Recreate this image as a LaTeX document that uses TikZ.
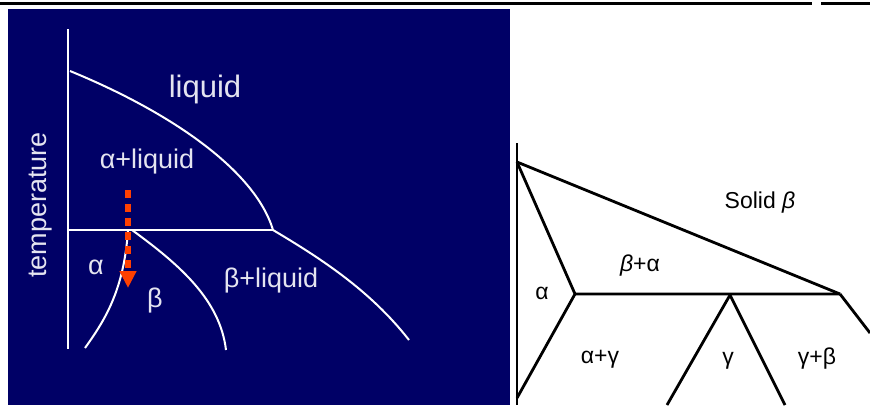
\documentclass[tikz,border=0pt]{standalone}
\usepackage{fontspec}
\setmainfont{Liberation Sans}
\usetikzlibrary{arrows.meta}
\definecolor{navyback}{RGB}{0,0,102}
\definecolor{labelgrey}{RGB}{228,228,240}
\definecolor{coolred}{RGB}{255,64,0}

\begin{document}
\begin{tikzpicture}[x=1pt,y=-1pt,
    phase/.style={draw=white,line width=2pt},
    boundary/.style={draw=black,line width=2.8pt,line join=round},
    bigtext/.style={text=labelgrey,inner sep=0pt,font=\fontsize{27}{27}\selectfont},
    smalltext/.style={inner sep=0pt,font=\fontsize{23}{23}\selectfont}
]

\useasboundingbox (0,0) rectangle (870,405);

% Trait du haut
\draw[line width=3pt] (0,3) -- (812,3);
\draw[line width=3pt] (821,3) -- (870,3);

% Fond bleu
\fill[navyback] (8,9) rectangle (510,405);

% Axe des temperatures
\coordinate (axtop) at (68,29);
\coordinate (axbot) at (68,349);
\draw[phase] (axtop) -- (axbot);

% Points du diagramme
\coordinate (melt) at (70,71);
\coordinate (eut) at (273,230);
\coordinate (eutleft) at (68,230);
\coordinate (solvA) at (128,230);
\coordinate (solvB) at (132,230);

% Liquidus
\draw[phase] (melt) .. controls (170,112) and (255,170) .. (eut);
\draw[phase] (eut) .. controls (320,258) and (370,290) .. (409,340);

% Palier
\draw[phase] (eutleft) -- (eut);

% Solvus
\draw[phase] (solvA) .. controls (124,290) and (105,320) .. (85,348);
\draw[phase] (solvB) .. controls (180,265) and (220,300) .. (226,350);

% Refroidissement
\coordinate (cool0) at (128,190);
\coordinate (cool1) at (128,288);
\draw[coolred,line width=6.5pt,dash pattern=on 8pt off 6pt,
    -{Triangle[width=16pt,length=17pt]}] (cool0) -- (cool1);

% Etiquettes
\node[bigtext,font=\fontsize{31}{31}\selectfont] (liq) at (205,89) {liquid};
\node[bigtext] (aliq) at (147,162) {α+liquid};
\node[bigtext] (bliq) at (271,281) {β+liquid};
\node[bigtext] (alpha) at (96,267) {α};
\node[bigtext] (beta) at (155,301) {β};
\node[bigtext,rotate=90] (temp) at (41,205) {temperature};

% Deuxieme diagramme
\coordinate (top) at (517,143);
\coordinate (bot) at (517,405);
\coordinate (apex) at (517,162);
\coordinate (tri) at (840,294);
\coordinate (knee) at (575,294);
\coordinate (gam) at (730,295);
\draw[boundary] (top) -- (bot);
\draw[boundary] (apex) -- (tri);
\draw[boundary] (apex) -- (knee) -- (tri);
\draw[boundary] (tri) -- (870,333);
\draw[boundary] (knee) -- (517,398);
\draw[boundary] (667,405) -- (gam) -- (785,405);

\node[smalltext] (solb) at (760,203) {Solid \textit{β}};
\node[smalltext] (ba) at (640,266) {\textit{β}+α};
\node[smalltext] (a) at (542,293) {α};
\node[smalltext] (ag) at (600,359) {α+γ};
\node[smalltext] (g) at (728,361) {γ};
\node[smalltext] (gb) at (817,359) {γ+β};

\end{tikzpicture}
\end{document}
